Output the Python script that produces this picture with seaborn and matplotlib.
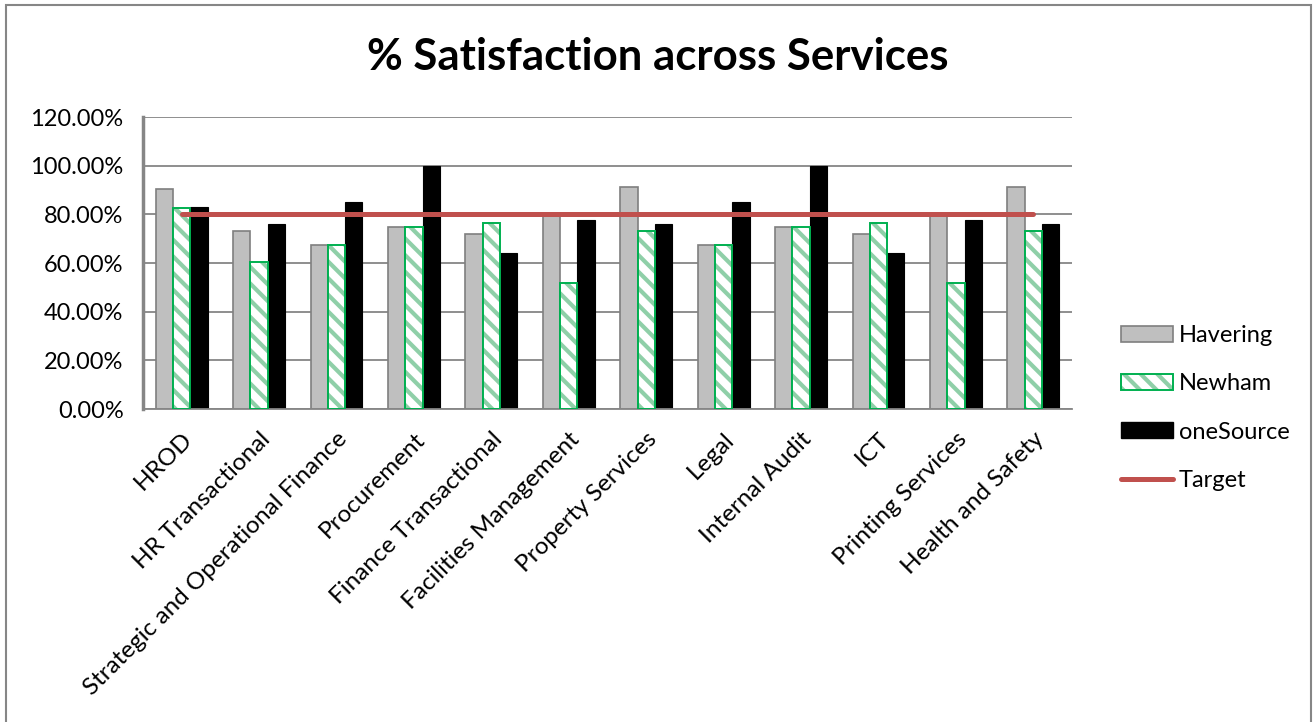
import matplotlib.pyplot as plt
import seaborn as sns
import pandas as pd
import numpy as np
from matplotlib.patches import Rectangle, Patch
from matplotlib.lines import Line2D
from matplotlib.ticker import PercentFormatter

services = ['HROD', 'HR Transactional', 'Strategic and Operational Finance', 'Procurement',
            'Finance Transactional', 'Facilities Management', 'Property Services', 'Legal',
            'Internal Audit', 'ICT', 'Printing Services', 'Health and Safety']
havering = [90.5, 73.2, 67.6, 75.0, 72.0, 80.0, 91.1, 67.6, 75.0, 72.0, 80.0, 91.1]
newham = [82.6, 60.6, 67.6, 75.0, 76.3, 51.6, 73.0, 67.6, 75.0, 76.3, 51.6, 73.0]
onesource = [83.1, 76.1, 84.9, 100.0, 64.2, 77.6, 76.1, 84.9, 100.0, 64.2, 77.6, 76.1]
target = [80.0] * 12
series = ['Havering', 'Newham', 'oneSource']

df = pd.DataFrame({'service': services * 3,
                   'value': havering + newham + onesource,
                   'series': [s for s in series for _ in services]})

sns.set_style('white')
plt.rcParams['font.family'] = ['Lato', 'DejaVu Sans']
plt.rcParams['hatch.linewidth'] = 3.0
plt.rcParams['text.color'] = 'black'
plt.rcParams['xtick.labelcolor'] = 'black'
plt.rcParams['ytick.labelcolor'] = 'black'

grey = '#868686'
stripe = '#8FCFA8'
green = '#00B050'
fig = plt.figure(figsize=(13.15, 7.22), dpi=100)
ax = fig.add_axes([143 / 1315, 1 - 409 / 722, (1072 - 143) / 1315, (409 - 117) / 722])

pal = {'Havering': '#BFBFBF', 'Newham': 'white', 'oneSource': 'black'}
sns.barplot(data=df, x='service', y='value', hue='series', hue_order=series, order=services,
            palette=pal, saturation=1, width=0.67, legend=False, ax=ax, zorder=2)

# Havering: grey fill, darker grey edge
for bar in ax.containers[0]:
    bar.set_edgecolor('#7F7F7F')
    bar.set_linewidth(1.2)
# Newham: pale green stripes with green outline
for bar in ax.containers[1]:
    bar.set_hatch('\\\\')
    bar.set_edgecolor(stripe)
    bar.set_linewidth(0)
    ax.add_patch(Rectangle(bar.get_xy(), bar.get_width(), bar.get_height(), fill=False,
                           edgecolor=green, linewidth=1.4, zorder=3))
for bar in ax.containers[2]:
    bar.set_edgecolor('black')
    bar.set_linewidth(0.8)

ax.plot(np.arange(len(services)), target, color='#C0504D', linewidth=3.6,
        solid_capstyle='round', zorder=4)

ax.set_xlim(-0.5, len(services) - 0.5)
ax.set_ylim(0, 120)
ax.set_yticks(np.arange(0, 121, 20))
ax.yaxis.set_major_formatter(PercentFormatter(xmax=100, decimals=2))
ax.yaxis.grid(True, color=grey, linewidth=1.3, zorder=0)
ax.set_axisbelow(True)
for s in ['top', 'right']:
    ax.spines[s].set_visible(False)
ax.spines['left'].set_color(grey)
ax.spines['left'].set_linewidth(2.5)
ax.spines['bottom'].set_color(grey)
ax.spines['bottom'].set_linewidth(1.3)
ax.tick_params(axis='y', length=6, width=2.5, color=grey, labelsize=17, pad=8)
ax.tick_params(axis='x', length=0, labelsize=17.5, pad=14)
ax.set_xlabel('')
ax.set_ylabel('')
plt.setp(ax.get_xticklabels(), rotation=45, ha='right', rotation_mode='anchor')

fig.text(658 / 1315, 1 - 57 / 722, '% Satisfaction across Services', ha='center', va='center',
         fontsize=31.5, fontweight='bold', color='black')

handles = [Patch(facecolor='#BFBFBF', edgecolor='#7F7F7F', linewidth=1.2),
           (Patch(facecolor='white', edgecolor=stripe, hatch='\\\\', linewidth=0),
            Patch(fill=False, edgecolor=green, linewidth=1.4)),
           Patch(facecolor='black', edgecolor='black'),
           Line2D([], [], color='#C0504D', linewidth=3.6, solid_capstyle='round')]
fig.legend(handles, series + ['Target'], loc='upper left',
           bbox_to_anchor=(1100 / 1315, 1 - 304 / 722), frameon=False, fontsize=17,
           handlelength=2.2, handleheight=0.65, labelspacing=1.15, handletextpad=0.25)

fig.patches.append(Rectangle((6 / 1315, -0.02), (1311 - 6) / 1315, 1.02 - 5 / 722,
                             transform=fig.transFigure, fill=False, edgecolor=grey,
                             linewidth=1.5))

fig.savefig('out.png', dpi=100)
